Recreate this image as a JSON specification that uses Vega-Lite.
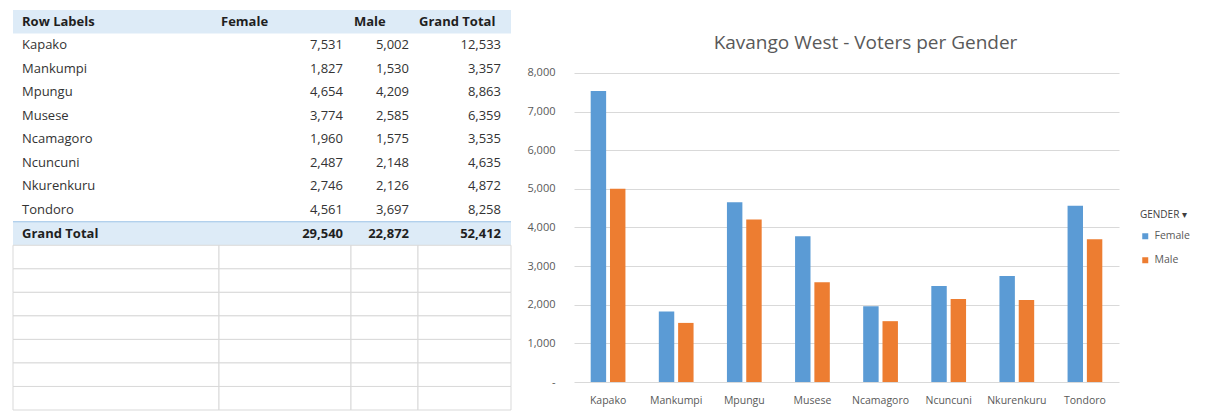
{
  "$schema": "https://vega.github.io/schema/vega-lite/v6.json",
  "background": "white",
  "padding": {"left": 12, "top": 10, "right": 0, "bottom": 0},
  "config": {"view": {"stroke": null}, "font": "Open Sans"},
  "datasets": {
    "pivot": [
      {"Row": "Kapako", "Female": 7531, "Male": 5002, "Grand Total": 12533},
      {"Row": "Mankumpi", "Female": 1827, "Male": 1530, "Grand Total": 3357},
      {"Row": "Mpungu", "Female": 4654, "Male": 4209, "Grand Total": 8863},
      {"Row": "Musese", "Female": 3774, "Male": 2585, "Grand Total": 6359},
      {"Row": "Ncamagoro", "Female": 1960, "Male": 1575, "Grand Total": 3535},
      {"Row": "Ncuncuni", "Female": 2487, "Male": 2148, "Grand Total": 4635},
      {"Row": "Nkurenkuru", "Female": 2746, "Male": 2126, "Grand Total": 4872},
      {"Row": "Tondoro", "Female": 4561, "Male": 3697, "Grand Total": 8258}
    ],
    "totals": [{"Row": "Grand Total", "Female": 29540, "Male": 22872, "Grand Total": 52412}],
    "bands": [{"Row": "Row Labels"}, {"Row": "Grand Total"}],
    "blank": [{"Row": "r1"}, {"Row": "r2"}, {"Row": "r3"}, {"Row": "r4"}, {"Row": "r5"}, {"Row": "r6"}, {"Row": "r7"}]
  },
  "spacing": 13,
  "hconcat": [
    {
      "spacing": 0,
      "bounds": "flush",
      "hconcat": [
        {
          "width": 206, "height": 400,
          "layer": [
            {"data": {"name": "bands"}, "mark": {"type": "rect", "fill": "#DDEBF7"},
             "encoding": {"y": {"field": "Row", "type": "nominal", "axis": null, "scale": {"type": "band", "paddingInner": 0, "paddingOuter": 0, "domain": ["Row Labels","Kapako","Mankumpi","Mpungu","Musese","Ncamagoro","Ncuncuni","Nkurenkuru","Tondoro","Grand Total","r1","r2","r3","r4","r5","r6","r7"]}}}},
            {"data": {"name": "blank"}, "mark": {"type": "rect", "fill": "white", "stroke": "#D9D9D9", "strokeWidth": 1},
             "encoding": {"y": {"field": "Row", "type": "nominal"}}},
            {"data": {"name": "totals"}, "mark": {"type": "rule", "color": "#9BC2E6"},
             "encoding": {"y": {"field": "Row", "type": "nominal", "bandPosition": 0}}},
            {"data": {"values": [{"Row": "Row Labels", "Label": "Row Labels"}]}, "mark": {"type": "text", "align": "left", "dx": 9, "fontSize": 13, "fontWeight": "bold", "color": "#1F1F1F"},
             "encoding": {"y": {"field": "Row", "type": "nominal"}, "x": {"value": 0}, "text": {"field": "Label"}}},
            {"data": {"name": "pivot"}, "mark": {"type": "text", "align": "left", "dx": 9, "fontSize": 13, "color": "#333333"},
             "encoding": {"y": {"field": "Row", "type": "nominal"}, "x": {"value": 0}, "text": {"field": "Row"}}},
            {"data": {"name": "totals"}, "mark": {"type": "text", "align": "left", "dx": 9, "fontSize": 13, "fontWeight": "bold", "color": "#1F1F1F"},
             "encoding": {"y": {"field": "Row", "type": "nominal"}, "x": {"value": 0}, "text": {"field": "Row"}}}
          ]
        },
        {
          "width": 132, "height": 400,
          "layer": [
            {"data": {"name": "bands"}, "mark": {"type": "rect", "fill": "#DDEBF7"},
             "encoding": {"y": {"field": "Row", "type": "nominal", "axis": null, "scale": {"type": "band", "paddingInner": 0, "paddingOuter": 0, "domain": ["Row Labels","Kapako","Mankumpi","Mpungu","Musese","Ncamagoro","Ncuncuni","Nkurenkuru","Tondoro","Grand Total","r1","r2","r3","r4","r5","r6","r7"]}}}},
            {"data": {"name": "blank"}, "mark": {"type": "rect", "fill": "white", "stroke": "#D9D9D9", "strokeWidth": 1},
             "encoding": {"y": {"field": "Row", "type": "nominal"}}},
            {"data": {"name": "totals"}, "mark": {"type": "rule", "color": "#9BC2E6"},
             "encoding": {"y": {"field": "Row", "type": "nominal", "bandPosition": 0}}},
            {"data": {"values": [{"Row": "Row Labels", "Label": "Female"}]}, "mark": {"type": "text", "align": "left", "dx": 2, "fontSize": 13, "fontWeight": "bold", "color": "#1F1F1F"},
             "encoding": {"y": {"field": "Row", "type": "nominal"}, "x": {"value": 0}, "text": {"field": "Label"}}},
            {"data": {"name": "pivot"}, "mark": {"type": "text", "align": "right", "dx": -8, "fontSize": 13, "color": "#333333"},
             "encoding": {"y": {"field": "Row", "type": "nominal"}, "x": {"value": "width"}, "text": {"field": "Female", "type": "quantitative", "format": ","}}},
            {"data": {"name": "totals"}, "mark": {"type": "text", "align": "right", "dx": -8, "fontSize": 13, "fontWeight": "bold", "color": "#1F1F1F"},
             "encoding": {"y": {"field": "Row", "type": "nominal"}, "x": {"value": "width"}, "text": {"field": "Female", "type": "quantitative", "format": ","}}}
          ]
        },
        {
          "width": 67, "height": 400,
          "layer": [
            {"data": {"name": "bands"}, "mark": {"type": "rect", "fill": "#DDEBF7"},
             "encoding": {"y": {"field": "Row", "type": "nominal", "axis": null, "scale": {"type": "band", "paddingInner": 0, "paddingOuter": 0, "domain": ["Row Labels","Kapako","Mankumpi","Mpungu","Musese","Ncamagoro","Ncuncuni","Nkurenkuru","Tondoro","Grand Total","r1","r2","r3","r4","r5","r6","r7"]}}}},
            {"data": {"name": "blank"}, "mark": {"type": "rect", "fill": "white", "stroke": "#D9D9D9", "strokeWidth": 1},
             "encoding": {"y": {"field": "Row", "type": "nominal"}}},
            {"data": {"name": "totals"}, "mark": {"type": "rule", "color": "#9BC2E6"},
             "encoding": {"y": {"field": "Row", "type": "nominal", "bandPosition": 0}}},
            {"data": {"values": [{"Row": "Row Labels", "Label": "Male"}]}, "mark": {"type": "text", "align": "left", "dx": 3, "fontSize": 13, "fontWeight": "bold", "color": "#1F1F1F"},
             "encoding": {"y": {"field": "Row", "type": "nominal"}, "x": {"value": 0}, "text": {"field": "Label"}}},
            {"data": {"name": "pivot"}, "mark": {"type": "text", "align": "right", "dx": -9, "fontSize": 13, "color": "#333333"},
             "encoding": {"y": {"field": "Row", "type": "nominal"}, "x": {"value": "width"}, "text": {"field": "Male", "type": "quantitative", "format": ","}}},
            {"data": {"name": "totals"}, "mark": {"type": "text", "align": "right", "dx": -9, "fontSize": 13, "fontWeight": "bold", "color": "#1F1F1F"},
             "encoding": {"y": {"field": "Row", "type": "nominal"}, "x": {"value": "width"}, "text": {"field": "Male", "type": "quantitative", "format": ","}}}
          ]
        },
        {
          "width": 93, "height": 400,
          "layer": [
            {"data": {"name": "bands"}, "mark": {"type": "rect", "fill": "#DDEBF7"},
             "encoding": {"y": {"field": "Row", "type": "nominal", "axis": null, "scale": {"type": "band", "paddingInner": 0, "paddingOuter": 0, "domain": ["Row Labels","Kapako","Mankumpi","Mpungu","Musese","Ncamagoro","Ncuncuni","Nkurenkuru","Tondoro","Grand Total","r1","r2","r3","r4","r5","r6","r7"]}}}},
            {"data": {"name": "blank"}, "mark": {"type": "rect", "fill": "white", "stroke": "#D9D9D9", "strokeWidth": 1},
             "encoding": {"y": {"field": "Row", "type": "nominal"}}},
            {"data": {"name": "totals"}, "mark": {"type": "rule", "color": "#9BC2E6"},
             "encoding": {"y": {"field": "Row", "type": "nominal", "bandPosition": 0}}},
            {"data": {"values": [{"Row": "Row Labels", "Label": "Grand Total"}]}, "mark": {"type": "text", "align": "left", "dx": 1, "fontSize": 13, "fontWeight": "bold", "color": "#1F1F1F"},
             "encoding": {"y": {"field": "Row", "type": "nominal"}, "x": {"value": 0}, "text": {"field": "Label"}}},
            {"data": {"name": "pivot"}, "mark": {"type": "text", "align": "right", "dx": -10, "fontSize": 13, "color": "#333333"},
             "encoding": {"y": {"field": "Row", "type": "nominal"}, "x": {"value": "width"}, "text": {"field": "Grand Total", "type": "quantitative", "format": ","}}},
            {"data": {"name": "totals"}, "mark": {"type": "text", "align": "right", "dx": -10, "fontSize": 13, "fontWeight": "bold", "color": "#1F1F1F"},
             "encoding": {"y": {"field": "Row", "type": "nominal"}, "x": {"value": "width"}, "text": {"field": "Grand Total", "type": "quantitative", "format": ","}}}
          ]
        }
      ]
    },
    {
      "width": 545, "height": 372,
      "data": {"name": "pivot"},
      "transform": [{"fold": ["Female", "Male"], "as": ["Gender", "Voters"]}],
      "title": {"text": "Kavango West - Voters per Gender", "fontSize": 19, "font": "Open Sans", "fontWeight": "normal", "color": "#595959", "anchor": "middle", "frame": "group", "offset": -52, "baseline": "middle", "dx": 19},
      "mark": {"type": "bar"},
      "encoding": {
        "x": {"field": "Row", "type": "nominal", "sort": null,
              "scale": {"paddingInner": 0.49, "paddingOuter": 0.245},
              "axis": {"title": null, "labelAngle": 0, "ticks": false, "domain": false, "labelPadding": 13, "labelFontSize": 10.5, "labelColor": "#595959", "labelFont": "Open Sans"}},
        "xOffset": {"field": "Gender", "type": "nominal", "scale": {"paddingInner": 0.2, "paddingOuter": 0}},
        "y": {"field": "Voters", "type": "quantitative",
              "scale": {"domain": [0, 9631], "nice": false, "zero": true},
              "axis": {"title": null, "values": [0, 1000, 2000, 3000, 4000, 5000, 6000, 7000, 8000],
                       "labelExpr": "datum.value == 0 ? '-' : format(datum.value, ',')",
                       "ticks": false, "domain": false, "gridColor": "#D9D9D9", "gridWidth": 1,
                       "labelPadding": 19, "minExtent": 49, "maxExtent": 49,
                       "labelFontSize": 11, "labelColor": "#595959", "labelFont": "Open Sans"}},
        "color": {"field": "Gender", "type": "nominal",
                  "scale": {"domain": ["Female", "Male"], "range": ["#5B9BD5", "#ED7D31"]},
                  "legend": {"title": "GENDER ▾", "orient": "none", "legendX": 1127, "legendY": 200,
                             "titleFontSize": 10, "titleFontWeight": "normal", "titleColor": "#404040", "titleFont": "Open Sans",
                             "titlePadding": 11, "symbolType": "square", "symbolSize": 36, "symbolStrokeWidth": 0,
                             "labelFontSize": 10.5, "labelColor": "#595959", "labelFont": "Open Sans", "rowPadding": 13}}
      }
    }
  ]
}
